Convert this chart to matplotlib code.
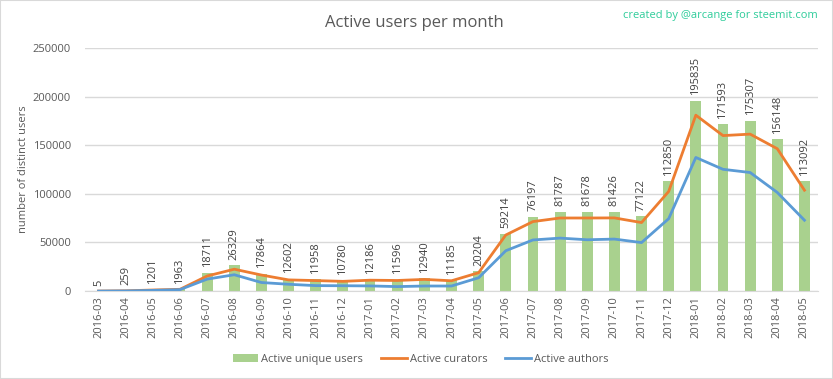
import matplotlib
matplotlib.use("Agg")
import matplotlib.pyplot as plt
from matplotlib.patches import Rectangle

months = ["2016-03","2016-04","2016-05","2016-06","2016-07","2016-08","2016-09","2016-10",
          "2016-11","2016-12","2017-01","2017-02","2017-03","2017-04","2017-05","2017-06",
          "2017-07","2017-08","2017-09","2017-10","2017-11","2017-12","2018-01","2018-02",
          "2018-03","2018-04","2018-05"]
unique_users = [5,259,1201,1963,18711,26329,17864,12602,11958,10780,12186,11596,12940,11185,
                20204,59214,76197,81787,81678,81426,77122,112850,195835,171593,175307,156148,113092]
curators = [0,250,1100,1800,15500,22500,16500,11500,10800,10000,11200,10900,12000,10600,
            18900,57700,71500,75200,75200,75300,70500,102500,181000,160000,161500,146500,103800]
authors = [0,150,700,1500,12300,16800,8800,7000,5600,5500,5300,4600,5200,5200,
           13700,41500,52600,54500,52800,53500,49900,74500,137500,125300,122000,101500,72900]

plt.rcParams['font.family'] = ['Open Sans', 'DejaVu Sans']
grey = "#595959"

fig = plt.figure(figsize=(8.33, 3.79), dpi=100)
fig.add_artist(Rectangle((0, 0), 1, 1, transform=fig.transFigure, fill=False,
                         edgecolor="#d9d9d9", lw=1.5))
ax = fig.add_axes([0.102, 0.232, 0.880, 0.641])

x = list(range(len(months)))
ax.bar(x, unique_users, width=0.4, color="#A9D18E", label="Active unique users", zorder=2)
ax.plot(x, curators, color="#ED7D31", lw=2, label="Active curators", zorder=3)
ax.plot(x, authors, color="#5B9BD5", lw=2, label="Active authors", zorder=3)

for xi, v in zip(x, unique_users):
    ax.annotate(str(v), (xi, v), xytext=(0, 4), textcoords="offset points", rotation=90,
                ha="center", va="bottom", fontsize=8, color="#404040")

ax.set_ylim(0, 250000)
ax.set_xlim(-0.5, len(months) - 0.5)
ax.set_yticks(range(0, 250001, 50000))
ax.set_yticklabels([str(v) for v in range(0, 250001, 50000)])
ax.set_xticks(x)
ax.set_xticklabels(months, rotation=90)
ax.tick_params(axis="both", length=0, labelsize=8, labelcolor=grey)
ax.tick_params(axis="y", pad=10)
ax.grid(axis="y", color="#d9d9d9", lw=1, zorder=0)
for s in ["top", "right", "left"]:
    ax.spines[s].set_visible(False)
ax.spines["bottom"].set_color("#d9d9d9")
ax.set_ylabel("number of distinct users", fontsize=8, color=grey, labelpad=3)

fig.text(0.498, 0.94, "Active users per month", ha="center", va="center", fontsize=12, color=grey)
fig.text(0.982, 0.96, "created by @arcange for steemit.com", ha="right", va="center",
         fontsize=8, color="#2ECC9A")

h, l = ax.get_legend_handles_labels()
order = [2, 0, 1]
fig.legend([h[i] for i in order], [l[i] for i in order], loc="center",
           bbox_to_anchor=(0.505, 0.052), ncol=3, frameon=False, fontsize=8,
           labelcolor=grey, handlelength=2.3, handletextpad=0.3, columnspacing=1.6)

fig.savefig("out.png", dpi=100)
